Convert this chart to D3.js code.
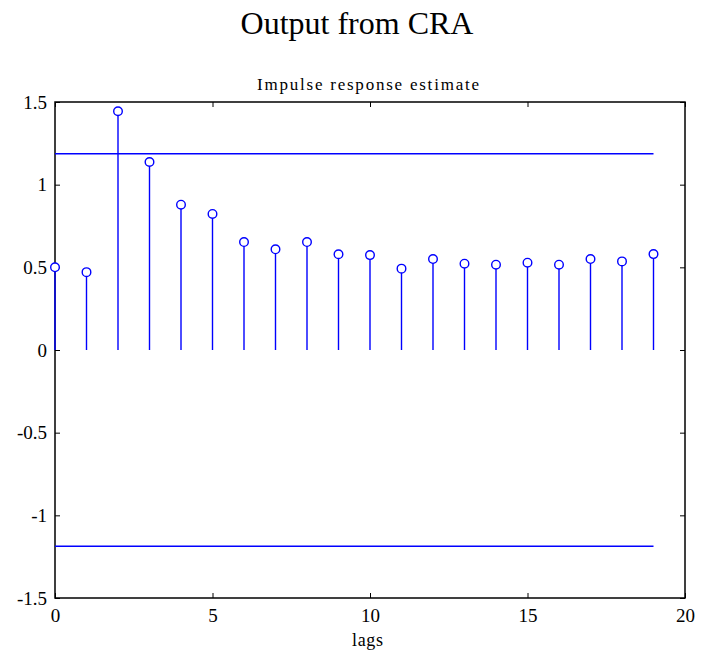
<!DOCTYPE html>
<html>
<head>
<meta charset="utf-8">
<script src="https://cdn.jsdelivr.net/npm/d3@7"></script>
<style>
  html, body { margin: 0; padding: 0; background: #fff; }
  svg { display: block; }
</style>
</head>
<body>
<svg id="chart" width="707" height="655"></svg>
<script>
// Impulse response estimate (correlation analysis), lags 0..19
const lags = d3.range(0, 20);
const impulse = [0.50, 0.471, 1.444, 1.137, 0.879, 0.823, 0.653, 0.609, 0.653, 0.579,
                 0.574, 0.492, 0.550, 0.522, 0.516, 0.528, 0.516, 0.550, 0.536, 0.580];
const confBound = 1.187;
const xTicks = [0, 5, 10, 15, 20];
const yTicks = [-1.5, -1, -0.5, 0, 0.5, 1, 1.5];

const serif = "'Liberation Serif', 'Times New Roman', Times, serif";
const svg = d3.select("#chart");
const plot = { left: 55, right: 685, top: 102, bottom: 598 };
const stemColor = "#0000ff";

const x = d3.scaleLinear().domain([0, 20]).range([plot.left, plot.right]);
const y = d3.scaleLinear().domain([-1.5, 1.5]).range([plot.bottom, plot.top]);

// Titles
svg.append("text")
  .attr("x", 357).attr("y", 34)
  .attr("text-anchor", "middle")
  .style("font-family", serif).style("font-size", "32px")
  .text("Output from CRA");

svg.append("text")
  .attr("x", 368).attr("y", 90)
  .attr("text-anchor", "middle")
  .style("font-family", serif).style("font-size", "17px")
  .attr("textLength", 222)
  .attr("lengthAdjust", "spacing")
  .text("Impulse response estimate");

// Axes with inward ticks on all four sides
const fmt = d => String(d);
const axisB = d3.axisBottom(x).tickValues(xTicks).tickSize(-5).tickPadding(10.5).tickFormat(fmt);
const axisT = d3.axisTop(x).tickValues(xTicks).tickSize(-5).tickFormat("");
const axisL = d3.axisLeft(y).tickValues(yTicks).tickSize(-5).tickPadding(8).tickFormat(fmt);
const axisR = d3.axisRight(y).tickValues(yTicks).tickSize(-5).tickFormat("");

function style(g) {
  g.attr("font-family", null).attr("font-size", null);
  g.select(".domain").remove();
  g.selectAll(".tick line").attr("stroke", "#000").attr("stroke-width", 1);
  g.selectAll(".tick text")
    .style("font-family", serif).style("font-size", "19px").attr("fill", "#000");
}

svg.append("g").attr("transform", `translate(0,${plot.bottom})`).call(axisB).call(style);
svg.append("g").attr("transform", `translate(0,${plot.top})`).call(axisT).call(style);
svg.append("g").attr("transform", `translate(${plot.left},0)`).call(axisL).call(style);
svg.append("g").attr("transform", `translate(${plot.right},0)`).call(axisR).call(style);

// Frame
svg.append("rect")
  .attr("x", plot.left).attr("y", plot.top)
  .attr("width", plot.right - plot.left).attr("height", plot.bottom - plot.top)
  .attr("fill", "none").attr("stroke", "#000").attr("stroke-width", 1.5);

// Confidence bounds
svg.selectAll("line.conf")
  .data([confBound, -confBound])
  .enter().append("line")
  .attr("class", "conf")
  .attr("x1", x(0)).attr("x2", x(19))
  .attr("y1", d => y(d)).attr("y2", d => y(d))
  .attr("stroke", stemColor).attr("stroke-width", 1.4);

// Stems
svg.selectAll("line.stem")
  .data(lags)
  .enter().append("line")
  .attr("class", "stem")
  .attr("x1", d => x(d)).attr("x2", d => x(d))
  .attr("y1", y(0)).attr("y2", d => y(impulse[d]))
  .attr("stroke", stemColor).attr("stroke-width", 1.4);

// Markers
svg.selectAll("circle.mark")
  .data(lags)
  .enter().append("circle")
  .attr("class", "mark")
  .attr("cx", d => x(d)).attr("cy", d => y(impulse[d]))
  .attr("r", 4.3)
  .attr("fill", "#fff").attr("stroke", stemColor).attr("stroke-width", 1.4);

// X label
svg.append("text")
  .attr("x", 367.5).attr("y", 646)
  .attr("text-anchor", "middle")
  .style("font-family", serif).style("font-size", "18px")
  .attr("textLength", 31)
  .attr("lengthAdjust", "spacing")
  .text("lags");
</script>
</body>
</html>
